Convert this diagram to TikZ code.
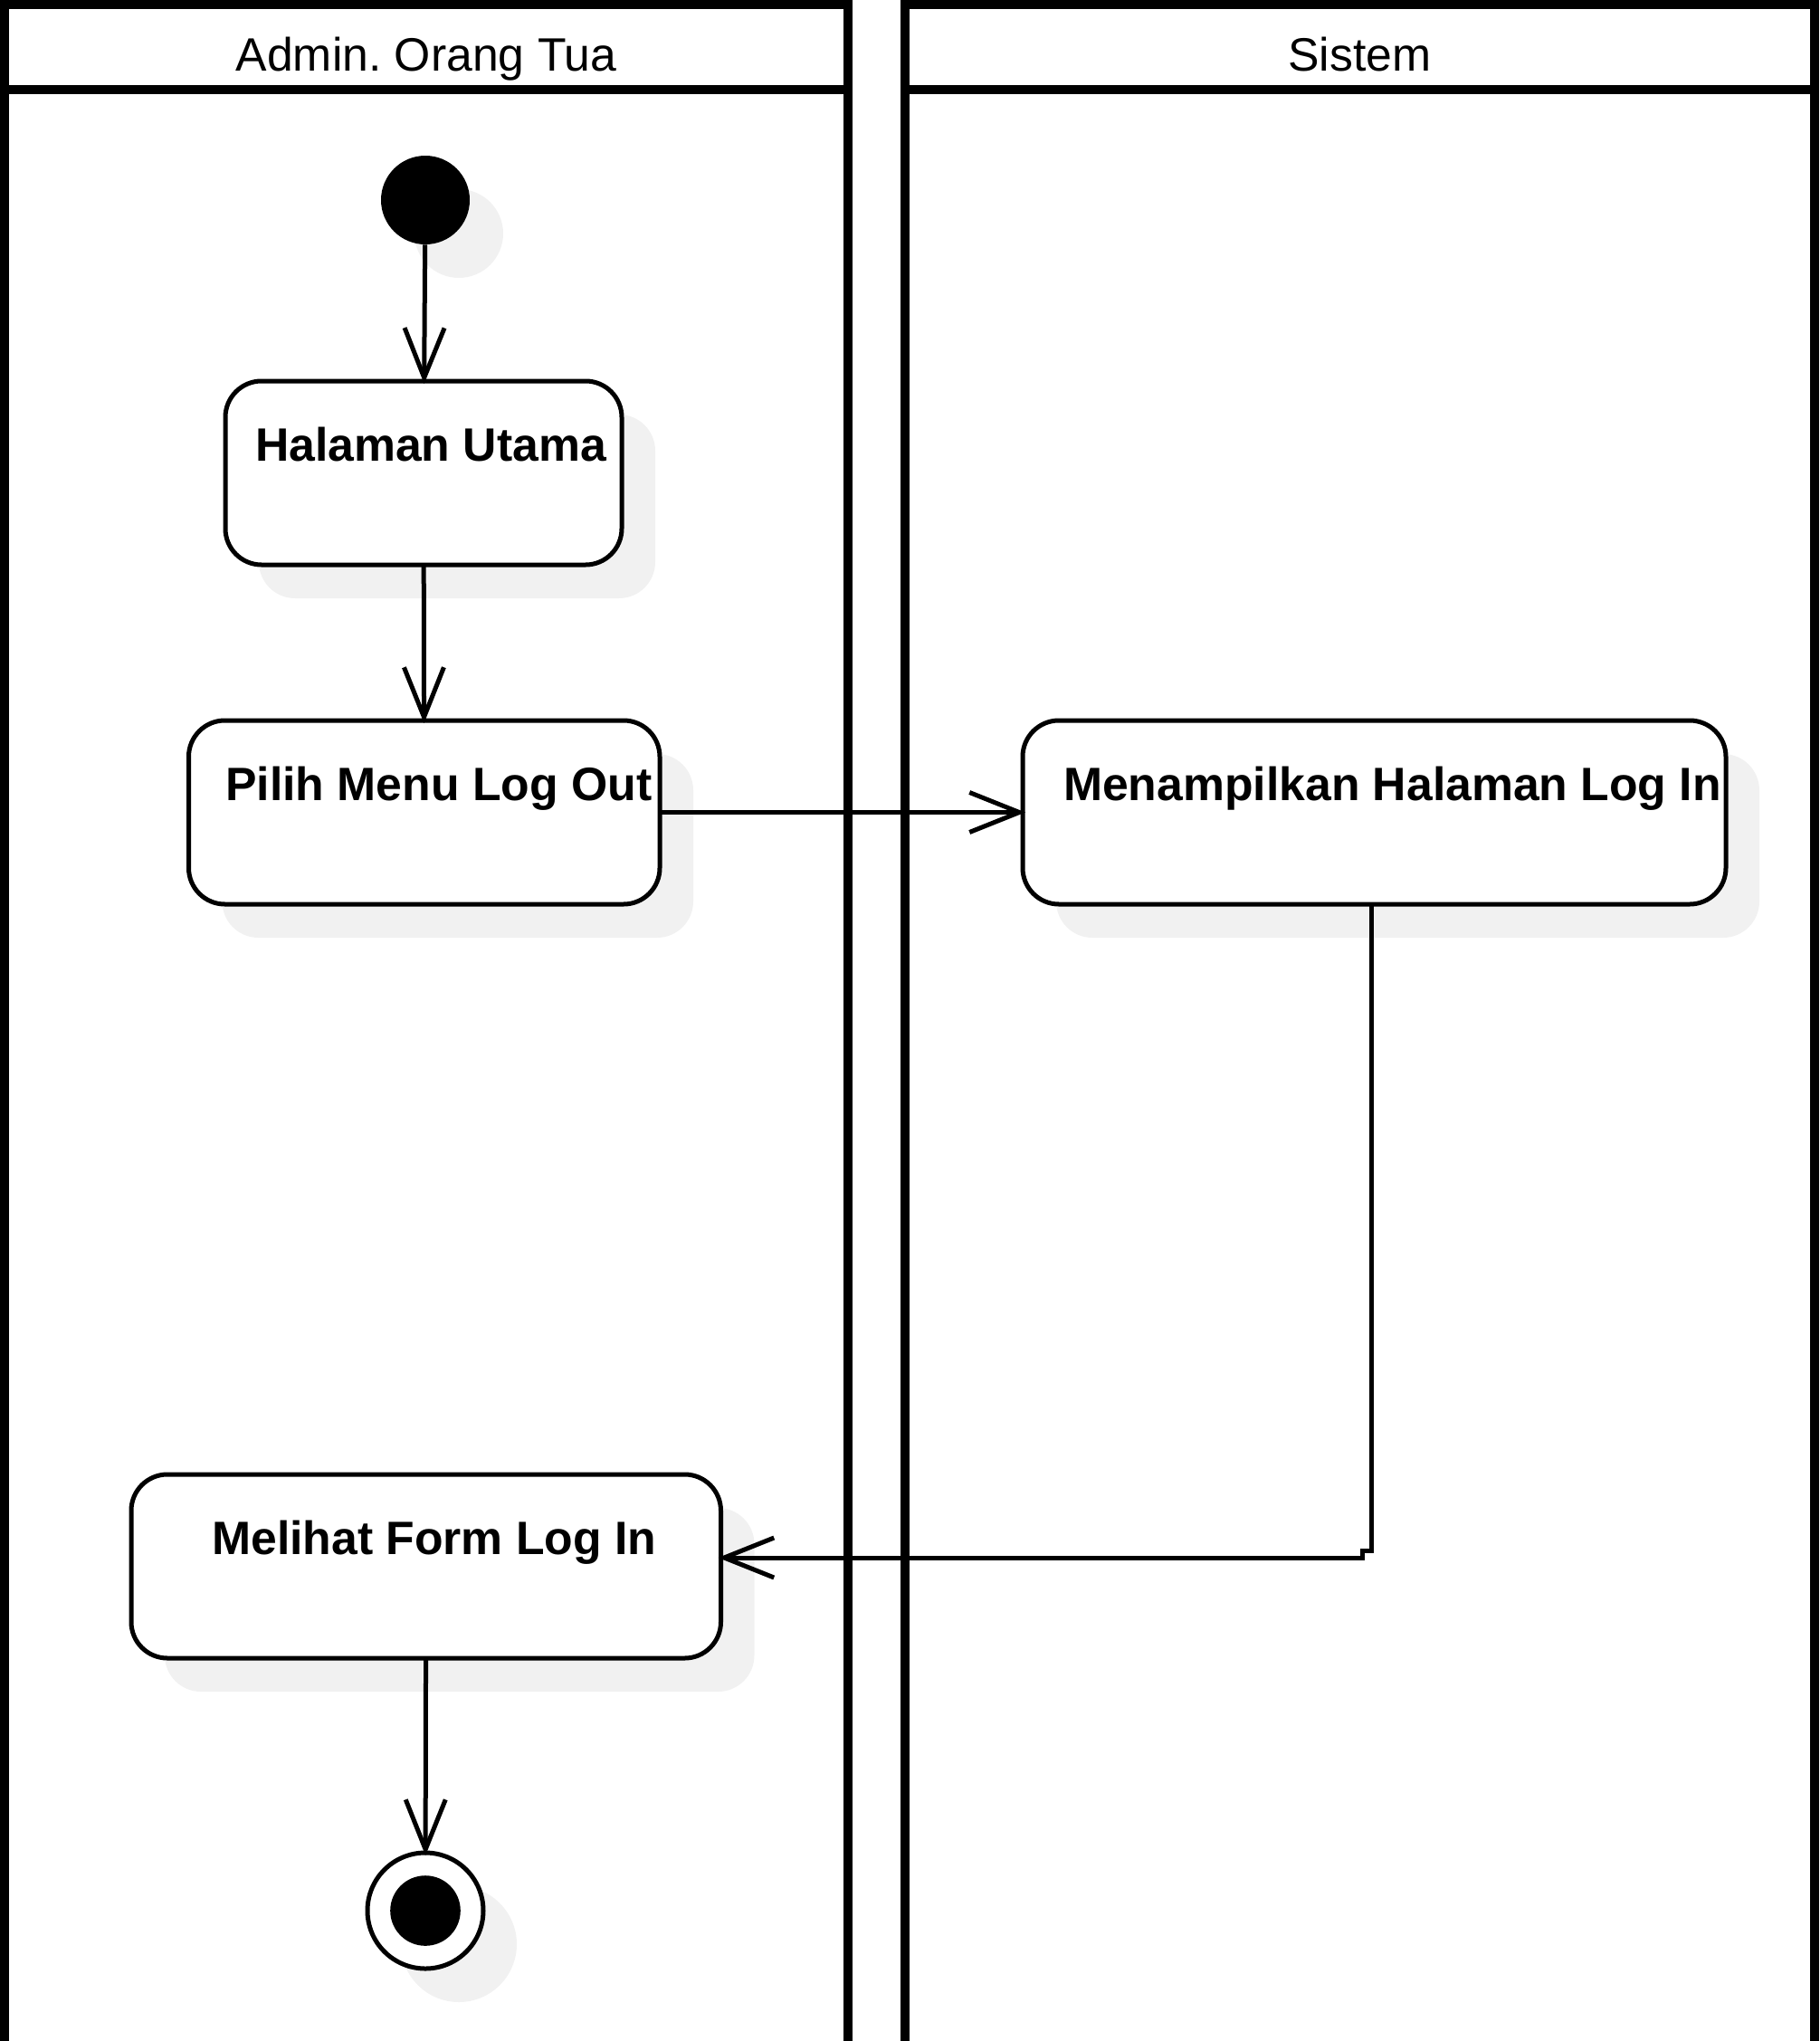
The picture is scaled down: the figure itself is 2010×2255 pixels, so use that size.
\documentclass[tikz,border=0pt]{standalone}
\usepackage{fontspec}
\setmainfont{Liberation Sans}
\usetikzlibrary{arrows.meta,shadows}
\definecolor{bayangan}{HTML}{F1F1F1}
\frenchspacing

\begin{document}
\begin{tikzpicture}[x=0.5pt,y=-0.5pt,
    lajur/.style={line width=5pt,line join=miter},
    judul/.style={anchor=base,font=\fontsize{25.85pt}{31pt}\selectfont},
    bayang/.style={drop shadow={shadow xshift=18.5pt,shadow yshift=-18.5pt,fill=bayangan,opacity=1}},
    aktivitas/.style={draw,line width=2.5pt,fill=white,rounded corners=20pt,minimum height=101.5pt,inner sep=0pt,outer sep=0pt,bayang},
    teks/.style={anchor=base,yshift=-44pt,font=\fontsize{25.85pt}{31pt}\selectfont\bfseries},
    awal/.style={circle,fill=black,minimum size=49pt,inner sep=0pt,bayang},
    akhir/.style={circle,draw,line width=2.5pt,fill=white,minimum size=64pt,inner sep=0pt,outer sep=0pt,bayang},
    titik/.style={circle,fill=black,minimum size=38.8pt,inner sep=0pt},
    alur/.style={line width=2.5pt,shorten >=-1.5pt,-{Straight Barb[length=27.5pt,width=22pt]}}]
                \useasboundingbox (0,0) rectangle (2010,2255);
                \draw[lajur] (5,2270) -- (5,5) -- (937,5) -- (937,2270);
                \draw[lajur] (5,99) -- (937,99);
                \draw[lajur] (1000,2270) -- (1000,5) -- (2005,5) -- (2005,2270);
                \draw[lajur] (1000,99) -- (2005,99);
                \node[judul] (orangtua) at (471,78) {Admin. Orang Tua};
                \node[judul] (sistem) at (1502.5,78) {Sistem};
                \node[awal] (mulai) at (470,221) {};
                \node[aktivitas,minimum width=219pt,label={[teks,xshift=4pt]north:Halaman Utama}] (utama) at (468,522.5) {};
                \node[aktivitas,minimum width=260.25pt,label={[teks,xshift=8pt]north:Pilih Menu Log Out}] (pilih) at (468.75,897.5) {};
                \node[aktivitas,minimum width=388.5pt,label={[teks,xshift=10pt]north:Menampilkan Halaman Log In}] (tampil) at (1518.5,897.5) {};
                \node[aktivitas,minimum width=325.75pt,label={[teks,xshift=4.5pt]north:Melihat Form Log In}] (lihat) at (470.75,1730.5) {};
                \node[akhir] (selesai) at (470,2111) {};
                \node[titik] (selesaititik) at (selesai) {};
                \coordinate (b1) at (1515,1713);
                \coordinate (b2) at (1505,1713);
                \coordinate (b3) at (1505,1721);
                \draw[alur] (mulai) -- (utama);
                \draw[alur] (utama) -- (pilih);
                \draw[alur] (pilih) -- (tampil);
                \draw[alur] (tampil.south -| b1) -- (b1) -- (b2) -- (b3) -- (lihat.east |- b3);
                \draw[alur] (lihat) -- (selesai);
            \end{tikzpicture}
\end{document}
